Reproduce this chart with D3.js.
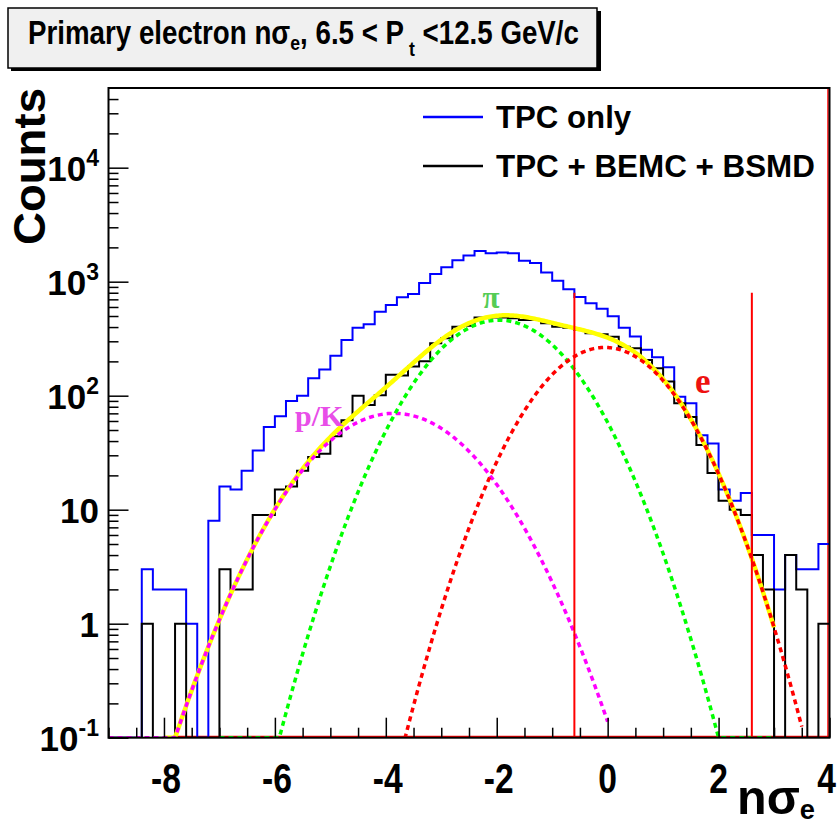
<!DOCTYPE html>
<html><head><meta charset="utf-8">
<script src="https://cdn.jsdelivr.net/npm/d3@7"></script>
<style>body{margin:0;background:#fff}svg{display:block}</style>
</head><body>
<script>
// ---------------- data ----------------
const binStart = -9, binWidth = 0.2;
const tpcOnly = [0,0,0,3,2,2,2,1,0,8,16,15,22,33,53,66,90,100,142,170,224,308,395,423,546,625,730,780,975,1170,1338,1540,1700,1860,1780,1800,1780,1528,1455,1205,1017,860,735,647,580,497,394,331,253,217,178,98,86,45,38,15,12,14,6,6,2,4,3,3,5];
const tpcBemcBsmd = [0,0,0,1,0,0,1,0,0,0,3,2,2,9,9,15,16,22,29,31,44,61,100,83,101,153,150,180,200,288,319,403,411,485,485,485,478,461,461,431,403,395,377,353,346,329,269,261,206,174,133,86,65,37,21,12,10,9,4,2,0,4,2,0,1];
const fitPK = {amp:70, mean:-3.85, sigma:1.091, range:[-9,0]};
const fitPi = {amp:460, mean:-1.96, sigma:0.964, range:[-7,3]};
const fitE  = {amp:265, mean:-0.05, sigma:0.907, range:[-4,3.5]};
const totalRange = [-8,3];
const cutLines = [-0.6, 2.6];
const cutTop = 800;
const xMajorTicks = [-8,-6,-4,-2,0,2,4];
const xMinorTicks = d3.range(-9,4.01,0.5).filter(v => Math.abs(v/2 - Math.round(v/2)) > 1e-6);
const yDecades = [0.1,1,10,100,1000,10000];
const yLabels = [["10","-1"],["1",""],["10",""],["10","2"],["10","3"],["10","4"]];
const legendItems = [{label:"TPC only", color:"#0000ff"},{label:"TPC + BEMC + BSMD", color:"#000000"}];

// ---------------- setup ----------------
const W = 838, H = 826;
const svg = d3.select("body").append("svg").attr("width",W).attr("height",H);
const x = d3.scaleLinear().domain([-9,4]).range([108.5,829.5]);
const y = d3.scaleLog().domain([0.1,5e4]).range([737.7,88]);
const yBot = y(0.1);
const SANS = "'Liberation Sans', Arial, Helvetica, sans-serif";
const SERIF = "'Liberation Serif', 'Times New Roman', serif";

svg.append("defs").append("clipPath").attr("id","clip")
  .append("rect").attr("x",x(-9)).attr("y",y(5e4)).attr("width",x(4)-x(-9)).attr("height",yBot-y(5e4));

function fitText(g, x0, base, width){
  const bb = g.node().getBBox();
  const sx = width/bb.width;
  g.attr("transform",`translate(${x0 - bb.x*sx},${base}) scale(${sx},1)`);
}

// ---------------- title box ----------------
svg.append("rect").attr("x",11).attr("y",11).attr("width",590).attr("height",60).attr("fill","#000");
svg.append("rect").attr("x",8).attr("y",8).attr("width",589).attr("height",60)
  .attr("fill","#f0f0f0").attr("stroke","#000").attr("stroke-width",1.5);
{
  const g = svg.append("g");
  const t = g.append("text").attr("font-family",SANS).attr("font-weight","bold").attr("font-size",33).attr("fill","#000");
  t.append("tspan").text("Primary electron n\u03c3");
  t.append("tspan").attr("font-size",21).attr("dy",6).text("e");
  t.append("tspan").attr("dy",-6).text(", 6.5 < P");
  t.append("tspan").attr("font-size",21).attr("dy",12).text(" t");
  t.append("tspan").attr("dy",-12).text(" <12.5 GeV/c");
  fitText(g, 28, 44, 551);
}

// ---------------- plot ----------------
const plot = svg.append("g").attr("clip-path","url(#clip)");

// red base line along bottom and right edge
plot.append("line").attr("x1",x(-7.8)).attr("x2",x(4)).attr("y1",yBot-1).attr("y2",yBot-1)
  .attr("stroke","#ff0000").attr("stroke-width",2);
plot.append("line").attr("x1",x(4)-1.5).attr("x2",x(4)-1.5).attr("y1",y(5e4)).attr("y2",yBot)
  .attr("stroke","#ff0000").attr("stroke-width",1.5);

function histPath(counts){
  const pts = [];
  counts.forEach((c,i) => {
    const x0 = binStart + i*binWidth, x1 = x0 + binWidth;
    const yy = c > 0 ? y(c) : yBot;
    pts.push([x(x0),yy],[x(x1),yy]);
  });
  return d3.line()(pts);
}
plot.append("path").attr("d",histPath(tpcOnly)).attr("fill","none").attr("stroke","#0000ff").attr("stroke-width",2);
plot.append("path").attr("d",histPath(tpcBemcBsmd)).attr("fill","none").attr("stroke","#000").attr("stroke-width",2);

const gauss = (p,v) => p.amp*Math.exp(-((v-p.mean)**2)/(2*p.sigma*p.sigma));
const total = v => gauss(fitPK,v)+gauss(fitPi,v)+gauss(fitE,v);
function fnPath(f, range){
  const n = 400, pts = [];
  for(let i=0;i<=n;i++){
    const v = range[0] + (range[1]-range[0])*i/n;
    pts.push([x(v), y(Math.max(f(v),0.1))]);
  }
  return d3.line()(pts);
}
plot.append("path").attr("d",fnPath(total,totalRange)).attr("fill","none").attr("stroke","#ffff00").attr("stroke-width",4.5);
const dash = "5,4";
plot.append("path").attr("d",fnPath(v=>gauss(fitPK,v),fitPK.range)).attr("fill","none").attr("stroke","#ff00ff").attr("stroke-width",3.5).attr("stroke-dasharray",dash);
plot.append("path").attr("d",fnPath(v=>gauss(fitPi,v),fitPi.range)).attr("fill","none").attr("stroke","#00ff00").attr("stroke-width",3.5).attr("stroke-dasharray",dash);
plot.append("path").attr("d",fnPath(v=>gauss(fitE,v),fitE.range)).attr("fill","none").attr("stroke","#ff0000").attr("stroke-width",3.5).attr("stroke-dasharray",dash);

// cut lines
cutLines.forEach(c => {
  svg.append("line").attr("x1",x(c)).attr("x2",x(c)).attr("y1",yBot).attr("y2",y(cutTop))
    .attr("stroke","#ff0000").attr("stroke-width",2);
});

// component labels
svg.append("text").attr("x",491).attr("y",308).attr("text-anchor","middle").attr("font-family",SERIF)
  .attr("font-weight","bold").attr("font-size",31).attr("fill","#55cc55").text("\u03c0");
svg.append("text").attr("x",295).attr("y",426).attr("font-family",SERIF)
  .attr("font-weight","bold").attr("font-size",30).attr("fill","#e84ee8").text("p/K");
svg.append("text").attr("x",695).attr("y",393).attr("font-family",SERIF)
  .attr("font-weight","bold").attr("font-size",35).attr("fill","#ee1111").text("e");

// ---------------- frame & axes ----------------
svg.append("rect").attr("x",x(-9)).attr("y",y(5e4)).attr("width",x(4)-x(-9)).attr("height",yBot-y(5e4))
  .attr("fill","none").attr("stroke","#000").attr("stroke-width",2);

// x axis ticks (inward)
svg.append("g").attr("transform",`translate(0,${yBot})`)
  .call(d3.axisBottom(x).tickValues(xMajorTicks).tickSize(-20).tickFormat(""))
  .call(g => { g.select(".domain").remove(); g.selectAll("line").attr("stroke-width",1.5); });
svg.append("g").attr("transform",`translate(0,${yBot})`)
  .call(d3.axisBottom(x).tickValues(xMinorTicks).tickSize(-10).tickFormat(""))
  .call(g => { g.select(".domain").remove(); g.selectAll("line").attr("stroke-width",1.5); });
xMajorTicks.forEach(v => {
  const g = svg.append("g");
  g.append("text").attr("font-family",SANS).attr("font-weight","bold").attr("font-size",42)
    .attr("text-anchor","middle").text(v < 0 ? "-" + Math.abs(v) : String(v));
  const cx = v === 4 ? x(v) - 3 : x(v) + (v < 0 ? 2 : 0);
  g.attr("transform",`translate(${cx},793) scale(0.8,1)`);
});

// y axis ticks (inward)
const yMinor = [];
yDecades.forEach(d => { for(let k=2;k<=9;k++){ const v=d*k; if(v<5e4) yMinor.push(v);} });
svg.append("g").attr("transform",`translate(${x(-9)},0)`)
  .call(d3.axisLeft(y).tickValues(yDecades).tickSize(-20).tickFormat(""))
  .call(g => { g.select(".domain").remove(); g.selectAll("line").attr("stroke-width",1.5); });
svg.append("g").attr("transform",`translate(${x(-9)},0)`)
  .call(d3.axisLeft(y).tickValues(yMinor).tickSize(-10).tickFormat(""))
  .call(g => { g.select(".domain").remove(); g.selectAll("line").attr("stroke-width",1.5); });
yDecades.forEach((d,i) => {
  const t = svg.append("text").attr("x",99).attr("y",y(d)+13).attr("text-anchor","end")
    .attr("font-family",SANS).attr("font-weight","bold").attr("font-size",35);
  t.append("tspan").text(yLabels[i][0]);
  if(yLabels[i][1]) t.append("tspan").attr("font-size",23).attr("dy",-15).text(yLabels[i][1]);
});

// axis titles
{
  const g = svg.append("g");
  g.append("text").attr("font-family",SANS).attr("font-weight","bold").attr("font-size",44).text("Counts");
  const bb = g.node().getBBox();
  const sx = 157/bb.width;
  g.attr("transform",`translate(45,245) rotate(-90) scale(${sx},1)`);
}
{
  const g = svg.append("g");
  const t = g.append("text").attr("font-family",SANS).attr("font-weight","bold").attr("font-size",48);
  t.append("tspan").text("n\u03c3");
  t.append("tspan").attr("font-size",27).attr("dy",5).text("e");
  fitText(g, 737, 814, 78);
}

// ---------------- legend ----------------
legendItems.forEach((it,i) => {
  const cy = 117 + i*49;
  svg.append("line").attr("x1",423).attr("x2",483).attr("y1",cy).attr("y2",cy)
    .attr("stroke",it.color).attr("stroke-width",2.5);
  const g = svg.append("g");
  g.append("text").attr("font-family",SANS).attr("font-weight","bold").attr("font-size",31).text(it.label);
  fitText(g, 496, cy+11, i===0 ? 136 : 319);
});
</script>
</body></html>
